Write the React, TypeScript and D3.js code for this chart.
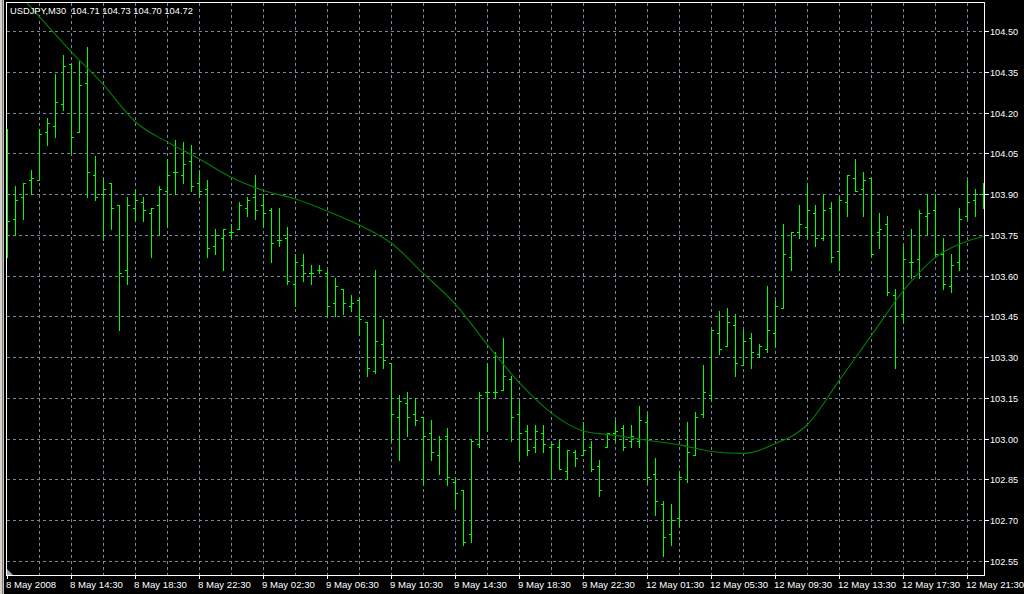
import React from "react";
import * as d3 from "d3";

// ---- data (USDJPY M30, bar index 0..122) ----
const opens = [103.73,103.81,103.89,103.95,103.95,104.13,104.15,104.23,104.38,104.13,104.31,103.97,103.90,103.94,103.86,103.62,103.85,103.87,103.83,103.86,103.91,103.98,103.97,104.02,103.94,103.92,103.71,103.74,103.76,103.77,103.85,103.89,103.86,103.84,103.73,103.74,103.57,103.64,103.61,103.62,103.61,103.50,103.55,103.49,103.51,103.43,103.25,103.35,103.28,103.08,103.13,103.09,103.08,103.02,102.94,103.01,102.84,102.81,102.65,102.98,103.17,103.17,103.18,103.22,103.09,103.03,102.97,103.02,102.97,102.97,102.88,102.95,102.94,102.97,102.90,102.97,103.02,103.04,102.99,102.99,103.06,102.87,102.76,102.65,102.71,102.85,102.94,103.09,103.16,103.39,103.34,103.42,103.27,103.37,103.31,103.33,103.39,103.48,103.67,103.76,103.78,103.83,103.74,103.85,103.69,103.87,103.96,103.92,103.96,103.76,103.79,103.53,103.46,103.65,103.66,103.82,103.84,103.68,103.56,103.65,103.82,103.88,103.90];
const highs = [104.14,103.93,103.94,103.99,104.14,104.18,104.34,104.41,104.38,104.39,104.44,104.04,103.96,103.94,103.86,103.89,103.92,103.89,103.85,103.93,104.03,104.10,104.09,104.08,103.99,103.95,103.77,103.77,103.79,103.87,103.89,103.97,103.90,103.85,103.85,103.78,103.68,103.68,103.64,103.64,103.62,103.59,103.55,103.53,103.52,103.43,103.62,103.44,103.28,103.16,103.17,103.15,103.08,103.07,103.01,103.04,102.86,102.81,103.00,103.17,103.28,103.32,103.37,103.23,103.14,103.05,103.05,103.05,102.98,103.00,102.96,102.96,103.06,102.99,102.92,103.02,103.07,103.05,103.05,103.12,103.09,102.93,102.77,102.76,102.88,103.06,103.10,103.27,103.40,103.47,103.48,103.46,103.40,103.39,103.35,103.56,103.51,103.79,103.76,103.86,103.94,103.86,103.90,103.87,103.89,103.97,104.03,103.98,103.96,103.83,103.82,103.55,103.71,103.77,103.84,103.90,103.90,103.74,103.68,103.85,103.95,103.92,103.94];
const lows = [103.67,103.75,103.81,103.90,103.95,104.08,104.11,104.21,104.05,104.13,103.89,103.88,103.73,103.77,103.40,103.57,103.80,103.80,103.67,103.75,103.78,103.90,103.94,103.91,103.89,103.67,103.68,103.62,103.74,103.77,103.82,103.81,103.78,103.65,103.71,103.57,103.49,103.58,103.57,103.61,103.45,103.45,103.46,103.47,103.38,103.23,103.24,103.26,102.99,102.92,103.01,103.05,102.83,102.92,102.87,102.83,102.74,102.61,102.62,102.97,103.03,103.15,103.18,102.99,102.92,102.94,102.95,102.95,102.85,102.89,102.85,102.90,102.94,102.88,102.79,102.97,102.99,102.96,102.97,102.97,102.84,102.72,102.57,102.61,102.68,102.84,102.94,103.08,103.14,103.31,103.34,103.23,103.27,103.26,103.30,103.32,103.34,103.48,103.62,103.74,103.74,103.71,103.73,103.65,103.62,103.82,103.91,103.82,103.67,103.70,103.53,103.26,103.43,103.59,103.59,103.75,103.68,103.55,103.54,103.62,103.81,103.82,103.85];
const closes = [103.80,103.88,103.94,103.96,104.12,104.16,104.24,104.37,104.11,104.30,103.98,103.89,103.92,103.85,103.61,103.86,103.88,103.84,103.85,103.92,103.97,103.98,104.01,103.93,103.91,103.70,103.75,103.77,103.76,103.86,103.88,103.84,103.83,103.72,103.73,103.58,103.65,103.61,103.61,103.62,103.49,103.56,103.50,103.50,103.44,103.26,103.36,103.29,103.09,103.14,103.08,103.07,103.01,102.95,103.00,102.86,102.80,102.62,102.99,103.16,103.17,103.17,103.23,103.08,103.02,102.96,103.03,102.98,102.98,102.89,102.96,102.93,102.96,102.89,102.81,103.02,103.03,102.97,103.01,103.07,102.86,102.77,102.64,102.70,102.86,102.95,103.08,103.17,103.40,103.33,103.43,103.28,103.36,103.32,103.34,103.40,103.49,103.68,103.76,103.79,103.84,103.74,103.84,103.67,103.88,103.97,103.91,103.95,103.68,103.77,103.54,103.45,103.66,103.65,103.83,103.83,103.68,103.57,103.64,103.81,103.87,103.90,103.90];

// moving average line, read at these bar indices
const maIndex = [2,4,8,12,16,20,24,28,32,36,40,44,48,52,56,60,64,68,72,76,80,84,88,92,96,100,104,108,112,116,120,122];
const maValue = [104.619,104.554,104.424,104.304,104.167,104.093,104.031,103.963,103.915,103.884,103.839,103.788,103.721,103.609,103.496,103.347,103.207,103.096,103.030,103.014,102.996,102.979,102.955,102.948,102.984,103.054,103.218,103.382,103.547,103.669,103.729,103.746];

const priceTicks = [104.5,104.35,104.2,104.05,103.9,103.75,103.6,103.45,103.3,103.15,103.0,102.85,102.7,102.55];
const timeTickIndex = [0,8,16,24,32,40,48,56,64,72,80,88,96,104,112,120];
const timeTickLabels = ["8 May 2008","8 May 14:30","8 May 18:30","8 May 22:30","9 May 02:30","9 May 06:30","9 May 10:30","9 May 14:30","9 May 18:30","9 May 22:30","12 May 01:30","12 May 05:30","12 May 09:30","12 May 13:30","12 May 17:30","12 May 21:30"];
const titleText = "USDJPY,M30  104.71 104.73 104.70 104.72";

const W = 1024, H = 594;
const L = 6, R = 984, T = 2, B = 575;
const GRID = "#778899";
const BAR = "#00ff00";
const MA = "#008000";
const FONT = "'Liberation Sans', Arial, sans-serif";

export default function App() {
  const x = d3.scaleLinear().domain([0, 122]).range([7.5, 983.5]);
  const y = d3.scaleLinear().domain([102.55, 104.5]).range([561.5, 31.5]);
  const row = (p: number) => Math.floor(y(p));
  const col = (k: number) => Math.floor(x(k));

  const gridK = d3.range(4, 123, 4);
  const maLine = d3
    .line<number>()
    .x((_, i) => x(maIndex[i]))
    .y((v) => y(v))
    .curve(d3.curveMonotoneX)(maValue) as string;

  return (
    <svg
      width={W}
      height={H}
      style={{ position: "absolute", left: 0, top: 0, display: "block", background: "#000" }}
    >
      <defs>
        <clipPath id="plot">
          <rect x={L + 1} y={T + 1} width={R - L - 1} height={B - T - 1} />
        </clipPath>
      </defs>
      <rect x={0} y={0} width={W} height={H} fill="#000" />
      {/* window edge */}
      <rect x={0} y={0} width={2} height={H} fill="#d4d0c8" />
      <rect x={2} y={0} width={1} height={H} fill="#808080" />
      <rect x={3} y={0} width={1} height={H} fill="#c8c4bc" />

      {/* grid */}
      <g clipPath="url(#plot)" shapeRendering="crispEdges">
        {priceTicks.map((p) => (
          <line key={"h" + p} x1={L + 1} x2={R} y1={row(p) + 0.5} y2={row(p) + 0.5} stroke={GRID} strokeDasharray="3,3" />
        ))}
        {gridK.map((k) => (
          <line key={"v" + k} x1={col(k) + 0.5} x2={col(k) + 0.5} y1={T + 1} y2={B} stroke={GRID} strokeDasharray="3,3" />
        ))}
      </g>

      {/* bars */}
      <g clipPath="url(#plot)" fill={BAR} shapeRendering="crispEdges">
        {opens.map((o, k) => {
          const c = col(k);
          const yh = row(highs[k]);
          const yl = row(lows[k]);
          return (
            <g key={k}>
              <rect x={c} y={yh} width={1} height={yl - yh + 1} />
              <rect x={c - 2} y={row(o)} width={2} height={1} />
              <rect x={c + 1} y={row(closes[k])} width={2} height={1} />
            </g>
          );
        })}
      </g>

      {/* moving average */}
      <g clipPath="url(#plot)">
        <path d={maLine} fill="none" stroke={MA} strokeWidth={1.1} />
      </g>

      {/* shift marker */}
      <polygon points={`${L + 1},${B - 6} ${L + 1},${B} ${L + 7},${B}`} fill="#a0aab4" />

      {/* frame */}
      <g stroke="#fff" shapeRendering="crispEdges">
        <line x1={L + 0.5} x2={L + 0.5} y1={T} y2={B + 1} />
        <line x1={R + 0.5} x2={R + 0.5} y1={T} y2={B + 1} />
        <line x1={L} x2={R + 1} y1={T + 0.5} y2={T + 0.5} />
        <line x1={L} x2={R + 1} y1={B + 0.5} y2={B + 0.5} />
      </g>

      {/* price axis */}
      <g fill="#fff" fontFamily={FONT} fontSize={9.2}>
        {priceTicks.map((p) => (
          <g key={"pt" + p}>
            <rect x={R + 1} y={row(p)} width={4} height={1} />
            <text x={990} y={row(p) + 4}>{p.toFixed(2)}</text>
          </g>
        ))}
      </g>

      {/* time axis */}
      <g fill="#fff" fontFamily={FONT} fontSize={9.6}>
        {timeTickIndex.map((k, i) => (
          <g key={"tt" + k}>
            <rect x={col(k)} y={B + 1} width={1} height={3} />
            <text x={col(k) - 1} y={587.5}>{timeTickLabels[i]}</text>
          </g>
        ))}
      </g>

      {/* title */}
      <text x={10} y={14} fill="#fff" fontFamily={FONT} fontSize={9.3}>
        {titleText.replace(/  /g, "\u00a0 ")}
      </text>
    </svg>
  );
}
